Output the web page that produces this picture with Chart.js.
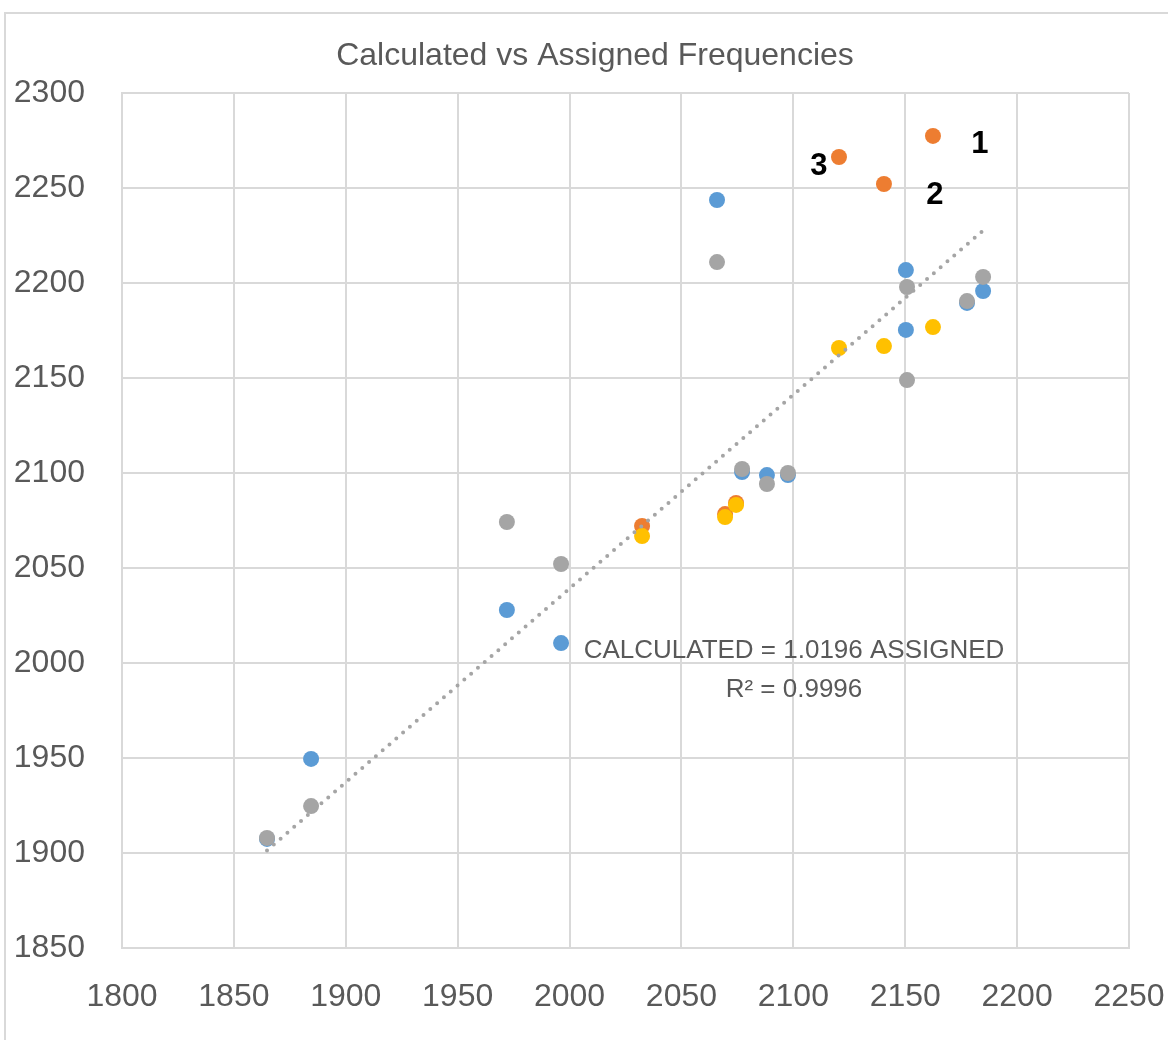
<!DOCTYPE html>
<html>
<head>
<meta charset="utf-8">
<script src="https://cdn.jsdelivr.net/npm/chart.js@4/dist/chart.umd.min.js"></script>
<style>
  html, body { margin: 0; padding: 0; background: #ffffff; overflow: hidden; }
  #frame { position: absolute; left: 4px; top: 12px; width: 1300px; height: 1200px;
           border-top: 2px solid #d9d9d9; border-left: 2px solid #d9d9d9; box-sizing: border-box; }
  #c { position: absolute; left: 0; top: 0; }
</style>
</head>
<body>
<div id="frame"></div>
<canvas id="c" width="1168" height="1040"></canvas>
<script>
// ---- data ----
const chartTitle = "Calculated vs Assigned Frequencies";
const xTicks = [1800, 1850, 1900, 1950, 2000, 2050, 2100, 2150, 2200, 2250];
const yTicks = [1850, 1900, 1950, 2000, 2050, 2100, 2150, 2200, 2250, 2300];

const blueX = [2065.9, 2150.3, 2150.3, 2184.8, 2177.6, 2077.1, 2088.2, 2097.6, 1972.0, 1996.2, 1884.5, 1864.8];
const blueY = [2243.7, 2206.8, 2175.3, 2195.8, 2189.5, 2100.5, 2098.9, 2098.9, 2027.9, 2010.5, 1949.5, 1907.4];

const grayX = [2065.9, 2150.8, 2150.8, 2184.8, 2177.6, 2077.1, 2088.2, 2097.6, 1972.0, 1996.2, 1884.5, 1864.8];
const grayY = [2211.0, 2197.9, 2148.9, 2203.2, 2190.5, 2102.1, 2094.2, 2100.0, 2074.2, 2052.1, 1924.7, 1907.9];

const orangeX = [2162.4, 2120.4, 2140.5, 2032.4, 2069.5, 2074.4];
const orangeY = [2277.4, 2266.3, 2252.1, 2072.1, 2078.4, 2084.2];

const yellowX = [2162.4, 2120.4, 2140.5, 2032.4, 2069.5, 2074.4];
const yellowY = [2176.8, 2165.8, 2166.8, 2066.8, 2076.8, 2083.2];

const trendSlope = 1.0196;
const trendR2 = "0.9996";
const trendLabel = "CALCULATED = 1.0196 ASSIGNED";
const pointLabels = ["1", "3", "2"]; // labels of the first three orange points

// ---- build ----
const pts = (xs, ys) => xs.map((x, i) => ({ x: x, y: ys[i] }));
const allX = blueX.concat(grayX, orangeX, yellowX);
const tMin = Math.min(...allX), tMax = Math.max(...allX);
const trendData = [{ x: tMin, y: trendSlope * tMin }, { x: tMax, y: trendSlope * tMax }];

const FONT = "'Liberation Sans', Arial, sans-serif";
const TXT = "#595959";

function series(label, data, color, order) {
  return {
    type: 'scatter', label, data, order,
    backgroundColor: color, borderColor: color,
    pointBackgroundColor: color, pointBorderColor: color,
    pointRadius: 8, pointHoverRadius: 8, pointBorderWidth: 0
  };
}

const annot = {
  id: 'annot',
  afterDraw(chart) {
    const ctx = chart.ctx;
    const xs = chart.scales.x, ys = chart.scales.y;
    ctx.save();
    ctx.fillStyle = TXT;
    ctx.font = "32px " + FONT;
    ctx.textAlign = 'center';
    ctx.textBaseline = 'middle';
    ctx.fillText(chartTitle, 595, 56);
    ctx.font = "26px " + FONT;
    ctx.fillText(trendLabel, 794, 651);
    ctx.fillText("R\u00B2 = " + trendR2, 794, 690);
    ctx.fillStyle = "#000000";
    ctx.font = "bold 31px " + FONT;
    const offs = [[47, 9], [-20, 9], [51, 11]];
    pointLabels.forEach((t, i) => {
      const px = xs.getPixelForValue(orangeX[i]) + offs[i][0];
      const py = ys.getPixelForValue(orangeY[i]) + offs[i][1];
      ctx.fillText(t, px, py);
    });
    ctx.restore();
  }
};

new Chart(document.getElementById('c'), {
  data: {
    datasets: [
      {
        type: 'line', label: 'Trend', data: trendData, order: 0,
        borderColor: '#a5a5a5', borderWidth: 4, borderDash: [0, 9], borderCapStyle: 'round',
        pointRadius: 0, fill: false, tension: 0
      },
      series('Series1', pts(blueX, blueY), '#5B9BD5', 4),
      series('Series2', pts(orangeX, orangeY), '#ED7D31', 3),
      series('Series3', pts(grayX, grayY), '#A5A5A5', 2),
      series('Series4', pts(yellowX, yellowY), '#FFC000', 1)
    ]
  },
  options: {
    responsive: false,
    animation: false,
    devicePixelRatio: 1,
    layout: { padding: { top: 93, right: 39, bottom: 0, left: 0 } },
    plugins: { legend: { display: false }, tooltip: { enabled: false }, title: { display: false } },
    scales: {
      x: {
        type: 'linear', min: xTicks[0], max: xTicks[xTicks.length - 1],
        afterBuildTicks: s => { s.ticks = xTicks.map(v => ({ value: v })); },
        afterFit: s => { s.height = 92; s.paddingLeft = 0; s.paddingRight = 0; },
        grid: { color: '#d9d9d9', lineWidth: 2, drawTicks: false },
        border: { color: '#d9d9d9', width: 2 },
        ticks: { color: TXT, font: { family: FONT, size: 32 }, padding: 30, maxRotation: 0, autoSkip: false,
                 callback: v => String(v) }
      },
      y: {
        type: 'linear', min: yTicks[0], max: yTicks[yTicks.length - 1],
        afterBuildTicks: s => { s.ticks = yTicks.map(v => ({ value: v })); },
        afterFit: s => { s.width = 122; s.paddingTop = 0; s.paddingBottom = 0; },
        grid: { color: '#d9d9d9', lineWidth: 2, drawTicks: false },
        border: { color: '#d9d9d9', width: 2 },
        ticks: { color: TXT, font: { family: FONT, size: 32 }, padding: 37, autoSkip: false,
                 callback: v => String(v) }
      }
    }
  },
  plugins: [annot]
});
</script>
</body>
</html>
